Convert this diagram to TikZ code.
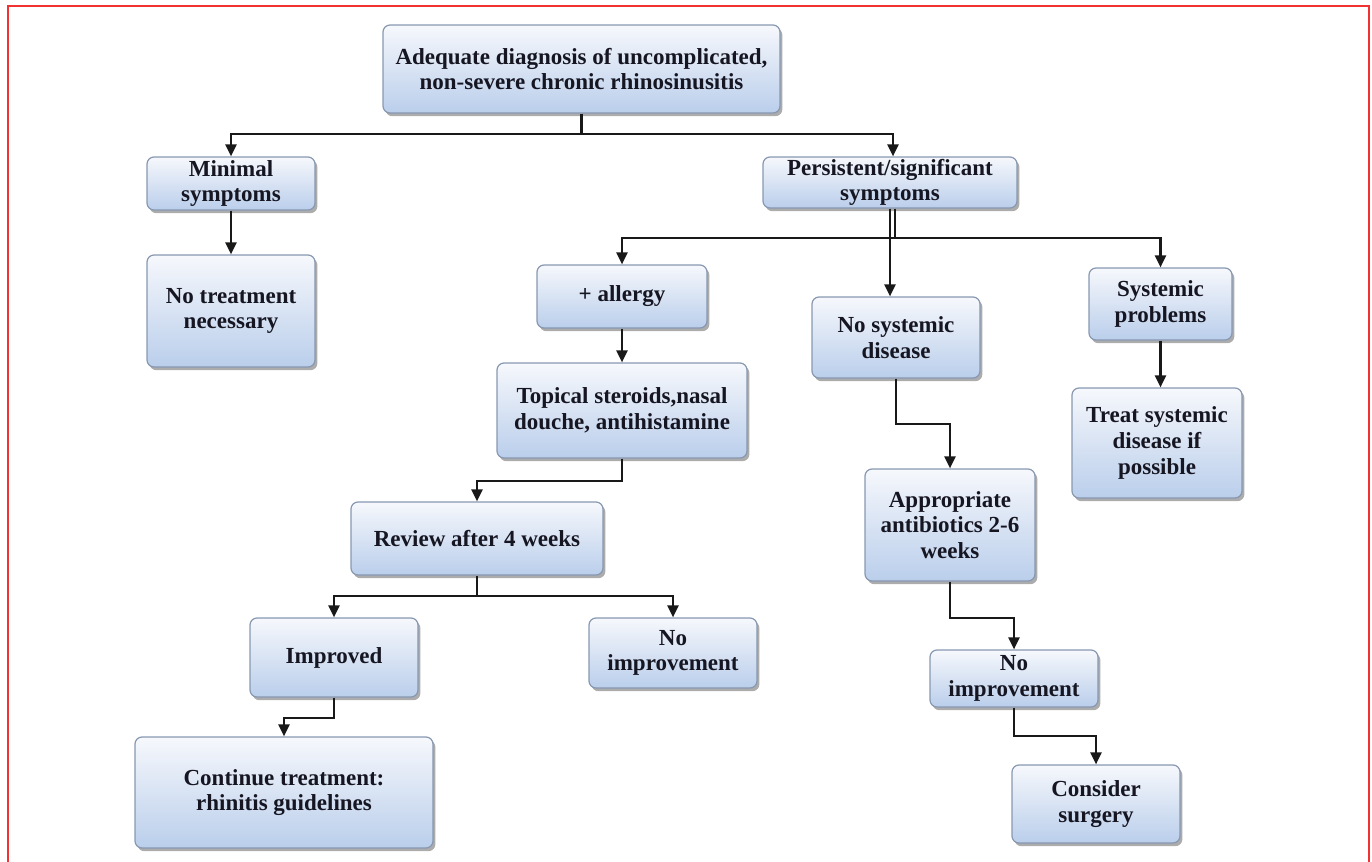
\documentclass[tikz,border=0pt]{standalone}
\usepackage{fontspec}
\setmainfont{Liberation Serif}
\usetikzlibrary{arrows.meta,shadows}
\definecolor{framecol}{RGB}{240,50,50}
\definecolor{boxtop}{RGB}{246,248,252}
\definecolor{boxbot}{RGB}{186,206,235}
\definecolor{boxline}{RGB}{135,152,176}
\definecolor{boxtext}{RGB}{22,22,34}
\definecolor{linecol}{RGB}{25,25,25}
\begin{document}
\begin{tikzpicture}[x=0.5pt,y=-0.5pt,
  box/.style={rectangle, rounded corners=3.5pt, draw=boxline, line width=0.6pt,
    top color=boxtop, bottom color=boxbot,
    drop shadow={shadow xshift=1.2pt, shadow yshift=-1.6pt, opacity=0.5, fill=black!65},
    font=\fontsize{11.5pt}{12.8pt}\selectfont\bfseries, text=boxtext, align=center, inner sep=0pt},
  sz/.style 2 args={minimum width=#1*0.5pt, minimum height=#2*0.5pt},
  link/.style={draw=linecol, line width=1.1pt},
  arr/.style={link, -{Triangle[length=6pt,width=5.5pt]}}]

\useasboundingbox (0,0) rectangle (1372,862);
\draw[framecol, line width=0.8pt] (8,862) -- (8,6) -- (1369,6) -- (1369,862);

\node[box, sz={397}{88}]  (top)      at (581.5,69)  {Adequate diagnosis of uncomplicated,\\non-severe chronic rhinosinusitis};
\node[box, sz={168}{53}]  (min)      at (231,183.5) {Minimal\\symptoms};
\node[box, sz={168}{112}] (notreat)  at (231,311)   {No treatment\\necessary};
\node[box, sz={254}{51}]  (pers)     at (890,182.5) {Persistent/significant\\symptoms};
\node[box, sz={170}{63}]  (allergy)  at (622,296.5) {+ allergy};
\node[box, sz={168}{81}]  (nosys)    at (896,337.5) {No systemic\\disease};
\node[box, sz={143}{72}]  (sysprob)  at (1160.5,304) {Systemic\\problems};
\node[box, sz={250}{95}]  (topical)  at (622,410.5) {Topical steroids,nasal\\douche, antihistamine};
\node[box, sz={170}{110}] (treat)    at (1157,443)  {Treat systemic\\disease if\\possible};
\node[box, sz={252}{73}]  (review)   at (477,538.5) {Review after 4 weeks};
\node[box, sz={170}{112}] (anti)     at (950,525)   {Appropriate\\antibiotics 2-6\\weeks};
\node[box, sz={168}{79}]  (improved) at (334,657.5) {Improved};
\node[box, sz={168}{70}]  (noimpL)   at (673,653)   {No\\improvement};
\node[box, sz={168}{57}]  (noimpR)   at (1014,678.5) {No\\improvement};
\node[box, sz={298}{111}] (cont)     at (284,792.5) {Continue treatment:\\rhinitis guidelines};
\node[box, sz={168}{78}]  (surgery)  at (1096,804)  {Consider\\surgery};

% top split
\draw[link, line width=1.5pt] (top.south) -- ++(0,20) coordinate (tj);
\draw[arr] (tj) -| (min.north);
\draw[arr] (tj) -| ([xshift=1.5pt]pers.north);
\draw[arr] (min.south) -- (notreat.north);

% persistent split
\draw[arr] (pers.south) -- (pers.south |- nosys.north);
\draw[link] ([xshift=2.5pt]pers.south) -- ++(0,29) coordinate (pj);
\draw[arr] (pj) -| (allergy.north);
\draw[arr] (pj) -| (sysprob.north);

% allergy branch
\draw[arr] (allergy.south) -- (topical.north);
\draw[arr] (topical.south) -- ++(0,22) -| (review.north);
\draw[link] (review.south) -- ++(0,20) coordinate (rj);
\draw[arr] (rj) -| (improved.north);
\draw[arr] (rj) -| (noimpL.north);
\draw[arr] (improved.south) -- ++(0,20) -| (cont.north);

% no systemic disease branch
\draw[arr] (nosys.south) -- ++(0,45) -| (anti.north);
\draw[arr] (anti.south) -- ++(0,36) -| (noimpR.north);
\draw[arr] (noimpR.south) -- ++(0,28) -| (surgery.north);

% systemic problems
\draw[arr] (sysprob.south) -- (sysprob.south |- treat.north);
\end{tikzpicture}
\end{document}
